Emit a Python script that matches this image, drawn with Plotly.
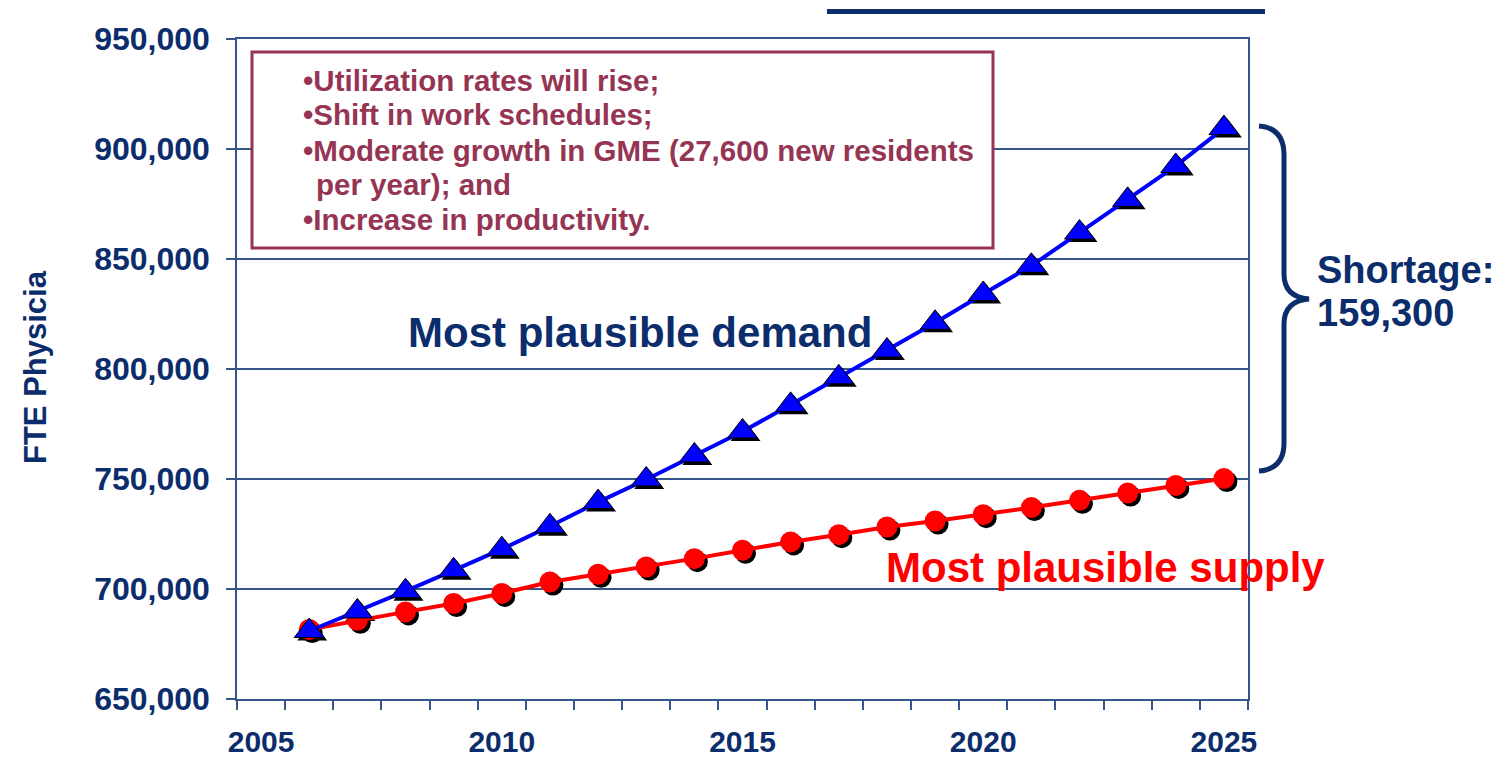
import plotly.graph_objects as go

# ---------------- data ----------------
years = list(range(2006, 2026))
demand = [680900, 689800, 699000, 708500, 718100, 728500, 739500, 749800, 760700, 771600,
          783700, 796200, 808400, 821000, 834100, 846900, 862000, 876900, 892300, 909500]
supply = [681600, 685800, 689600, 693400, 698000, 703200, 706700, 710000, 713800, 717600,
          721400, 724700, 728200, 730900, 733800, 737000, 740300, 743600, 747100, 750200]
x_tick_labels = [2005, 2010, 2015, 2020, 2025]
y_ticks = list(range(650000, 950001, 50000))
box_lines = ["•Utilization rates will rise;",
             "•Shift in work schedules;",
             "•Moderate growth in GME (27,600 new residents",
             "per year); and",
             "•Increase in productivity."]

# ---------------- styling ----------------
FONT = "Liberation Sans, Arial, sans-serif"
NAVY = "#0C2D6B"
GRID = "#34568A"
MAROON = "#953553"
W, H = 1501, 759
L, R, T, B = 237, 253, 39, 60
PW, PH = W - L - R, H - T - B
X0, X1 = 2004.5, 2025.5
Y0, Y1 = 650000, 950000
SH = 3  # shadow offset in px
sx = SH * (X1 - X0) / PW
sy = SH * (Y1 - Y0) / PH


def px(x):
    return (x - L) / PW


def py(y):
    return (H - B - y) / PH


fig = go.Figure()

# shadows (base hidden axes, shifted by a few pixels)
fig.add_trace(go.Scatter(x=years, y=supply, mode="markers", xaxis="x", yaxis="y",
                         marker=dict(symbol="circle", size=21, color="black"),
                         hoverinfo="skip", showlegend=False))
fig.add_trace(go.Scatter(x=years, y=demand, mode="markers", xaxis="x", yaxis="y",
                         marker=dict(symbol="triangle-up", size=26, color="black"),
                         hoverinfo="skip", showlegend=False))

# main series
fig.add_trace(go.Scatter(x=years, y=supply, mode="lines+markers", xaxis="x2", yaxis="y2",
                         line=dict(color="#FF0000", width=4),
                         marker=dict(symbol="circle", size=21, color="#FF0000",
                                     line=dict(color="#FF0000", width=0)),
                         name="Most plausible supply", showlegend=False))
fig.add_trace(go.Scatter(x=years, y=demand, mode="lines+markers", xaxis="x2", yaxis="y2",
                         line=dict(color="#0000FF", width=4),
                         marker=dict(symbol="triangle-up", size=26, color="#0000FF",
                                     line=dict(color="black", width=1)),
                         name="Most plausible demand", showlegend=False))

ytickfont = dict(family=FONT, size=32, color=NAVY, weight="bold")
xtickfont = dict(family=FONT, size=30, color=NAVY, weight="bold")

fig.update_layout(
    width=W, height=H, autosize=False,
    margin=dict(l=L, r=R, t=T, b=B),
    paper_bgcolor="white", plot_bgcolor="white",
    showlegend=False,
    xaxis=dict(range=[X0 - sx, X1 - sx], visible=False, automargin=False),
    yaxis=dict(range=[Y0 + sy, Y1 + sy], visible=False, automargin=False),
    xaxis2=dict(overlaying="x", anchor="y2", range=[X0, X1], automargin=False,
                tickmode="array", tickvals=x_tick_labels,
                ticks="outside", ticklen=0, tickfont=xtickfont,
                showgrid=False, zeroline=False,
                showline=True, linecolor=GRID, linewidth=1.5, mirror=True,
                ticklabelstandoff=15,
                minor=dict(tickmode="linear", tick0=2004.5, dtick=1, ticks="outside",
                           ticklen=9, tickcolor=GRID, tickwidth=1.5, showgrid=False)),
    yaxis2=dict(overlaying="y", anchor="x2", side="left", range=[Y0, Y1], automargin=False,
                tickmode="array", tickvals=y_ticks, tickformat=",",
                ticks="outside", ticklen=9, tickcolor=GRID, tickwidth=1.5,
                tickfont=ytickfont, showgrid=True, gridcolor=GRID, gridwidth=1.5,
                zeroline=False, showline=True, linecolor=GRID, linewidth=1.5, mirror=True,
                ticklabelstandoff=10),
)

shapes = [
    # text box
    dict(type="rect", xref="paper", yref="paper",
         x0=px(252), x1=px(993), y0=py(248), y1=py(52),
         line=dict(color=MAROON, width=3), fillcolor="white", layer="above"),
    # top bar
    dict(type="line", xref="paper", yref="paper",
         x0=px(827), x1=px(1265), y0=py(11.5), y1=py(11.5),
         line=dict(color=NAVY, width=5)),
    # brace
    dict(type="path", xref="paper", yref="paper",
         path=(f"M {px(1259)},{py(126)} Q {px(1284)},{py(128)} {px(1284)},{py(155)} "
               f"L {px(1284)},{py(274)} Q {px(1284)},{py(297)} {px(1309)},{py(299)} "
               f"Q {px(1284)},{py(301)} {px(1284)},{py(324)} "
               f"L {px(1284)},{py(443)} Q {px(1284)},{py(469)} {px(1259)},{py(471)}"),
         line=dict(color=NAVY, width=5)),
]
fig.update_layout(shapes=shapes)

ann = []
box_y = [80, 115, 150, 184, 219]
box_x = [301, 301, 301, 314, 301]
for t, yy, xx in zip(box_lines, box_y, box_x):
    ann.append(dict(text=t, xref="paper", yref="paper", x=px(xx), y=py(yy),
                    xanchor="left", yanchor="middle", showarrow=False,
                    font=dict(family=FONT, size=29.5, color=MAROON, weight="bold")))
ann.append(dict(text="Most plausible demand", xref="paper", yref="paper",
                x=px(640), y=py(332), xanchor="center", yanchor="middle", showarrow=False,
                font=dict(family=FONT, size=42, color=NAVY, weight="bold")))
ann.append(dict(text="Most plausible supply", xref="paper", yref="paper",
                x=px(1105), y=py(567), xanchor="center", yanchor="middle", showarrow=False,
                font=dict(family=FONT, size=42, color="#FF0000", weight="bold")))
ann.append(dict(text="Shortage:", xref="paper", yref="paper",
                x=px(1315), y=py(270), xanchor="left", yanchor="middle", showarrow=False,
                font=dict(family=FONT, size=38, color=NAVY, weight="bold")))
ann.append(dict(text="159,300", xref="paper", yref="paper",
                x=px(1315), y=py(313), xanchor="left", yanchor="middle", showarrow=False,
                font=dict(family=FONT, size=38, color=NAVY, weight="bold")))
ann.append(dict(text="FTE Physicia", xref="paper", yref="paper", textangle=-90,
                x=px(35), y=py(367), xanchor="center", yanchor="middle", showarrow=False,
                font=dict(family=FONT, size=31, color=NAVY, weight="bold")))
fig.update_layout(annotations=ann)

fig.write_html("out.html",
               config={"responsive": False, "displayModeBar": False},
               post_script="document.body.style.margin='0';document.body.style.overflow='hidden';")
